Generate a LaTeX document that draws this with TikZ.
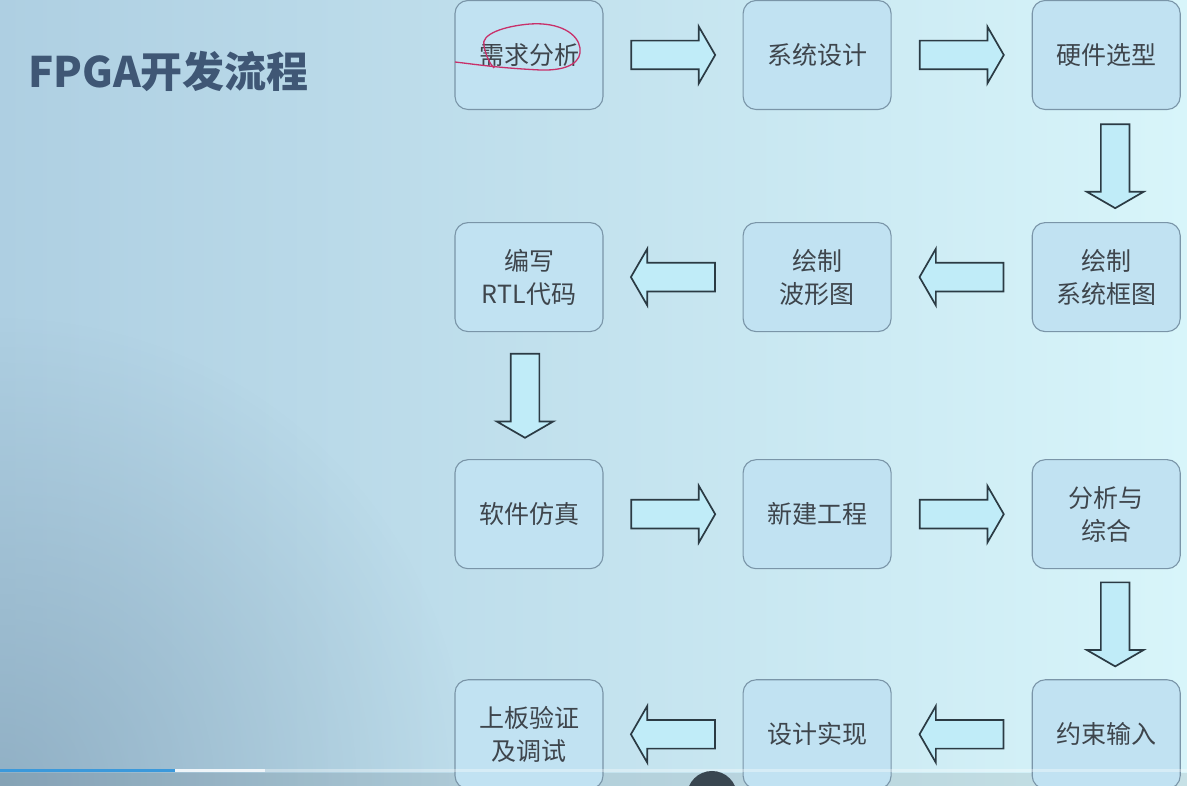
\documentclass[tikz,border=0pt]{standalone}
\usepackage{fontspec}
\usepackage{xcolor}
\usepackage{tikz}
\usetikzlibrary{positioning,shapes.arrows,fadings}
\newfontfamily\cjkfont{Noto Sans CJK SC}
\definecolor{bgl}{HTML}{AECFE2}
\definecolor{bgm}{HTML}{CDEEF6}
\definecolor{bgr}{HTML}{D8F5FA}
\definecolor{bgdark}{HTML}{7E9CB2}
\definecolor{boxfill}{HTML}{C1E2F2}
\definecolor{boxline}{HTML}{7A95A8}
\definecolor{arrfill}{HTML}{C0ECF8}
\definecolor{arrline}{HTML}{2B3B44}
\definecolor{txt}{HTML}{3E454C}
\definecolor{titlec}{HTML}{3F5775}
\definecolor{pen}{HTML}{C8306A}
\tikzfading[name=cornerfade,inner color=transparent!40,outer color=transparent!100]
\begin{document}
\begin{tikzpicture}[x=1pt,y=1pt,
box/.style={draw=boxline,fill=boxfill,line width=1.1pt,rounded corners=13pt,minimum width=148pt,minimum height=109pt,align=center,text=txt,font=\cjkfont\fontsize{25}{33}\selectfont},
blockarr/.style={single arrow,draw=arrline,fill=arrfill,line width=1.7pt,minimum height=84pt,minimum width=0pt,inner sep=13.5pt,single arrow head extend=14pt,single arrow tip angle=120},
rarr/.style={blockarr,xshift=-4pt},
larr/.style={blockarr,shape border rotate=180,xshift=4pt},
darr/.style={blockarr,shape border rotate=270,yshift=4pt}]
\useasboundingbox (0,0) rectangle (1187,786);
\shade[left color=bgl,middle color=bgm,right color=bgr] (0,0) rectangle (1187,786);
\fill[bgdark,path fading=cornerfade] (0,0) circle (470);
\fill[black,opacity=.08] (0,0) rectangle (1187,13);
\node[anchor=base west,text=titlec,font=\cjkfont\bfseries\fontsize{42}{42}\selectfont] (title) at (25,698) {FPGA开发流程};
\node[box] (req) at (529,731) {需求分析};
\node[box,right=139pt of req] (sys) {系统设计};
\node[box,right=140pt of sys] (hw) {硬件选型};
\node[box,below=112pt of hw] (blk) {绘制\\系统框图};
\node[box,left=140pt of blk] (wave) {绘制\\波形图};
\node[box,left=139pt of wave] (rtl) {编写\\RTL代码};
\node[box,below=127pt of rtl] (sim) {软件仿真};
\node[box,right=139pt of sim] (proj) {新建工程};
\node[box,right=140pt of proj] (syn) {分析与\\综合};
\node[box,below=110pt of syn] (xdc) {约束输入};
\node[box,left=140pt of xdc] (impl) {设计实现};
\node[box,left=139pt of impl] (board) {上板验证\\及调试};
\path (req) -- node[rarr]{} (sys);
\path (sys) -- node[rarr]{} (hw);
\path (hw) -- node[darr,xshift=9pt]{} (blk);
\path (blk) -- node[larr]{} (wave);
\path (wave) -- node[larr]{} (rtl);
\path (rtl) -- node[darr,xshift=-4pt]{} (sim);
\path (sim) -- node[rarr]{} (proj);
\path (proj) -- node[rarr]{} (syn);
\path (syn) -- node[darr,xshift=9pt]{} (xdc);
\path (xdc) -- node[larr]{} (impl);
\path (impl) -- node[larr]{} (board);
\draw[pen,line width=1.3pt] (455,724) .. controls (480,721) and (500,718) .. (540,716) .. controls (570,715) and (582,725) .. (580,738) .. controls (578,752) and (560,764) .. (530,762) .. controls (505,760) and (480,752) .. (484,740) .. controls (486,730) and (490,722) .. (494,718);
\fill[white,opacity=.35] (265,13.5) rectangle (1187,16.5);
\fill[white!80!bgl] (175,13.5) rectangle (265,16.5);
\fill[cyan!70!blue!80!white] (0,13.5) rectangle (175,16.5);
\fill[black!55!bgdark] (712,-10) circle (25);
\end{tikzpicture}
\end{document}
